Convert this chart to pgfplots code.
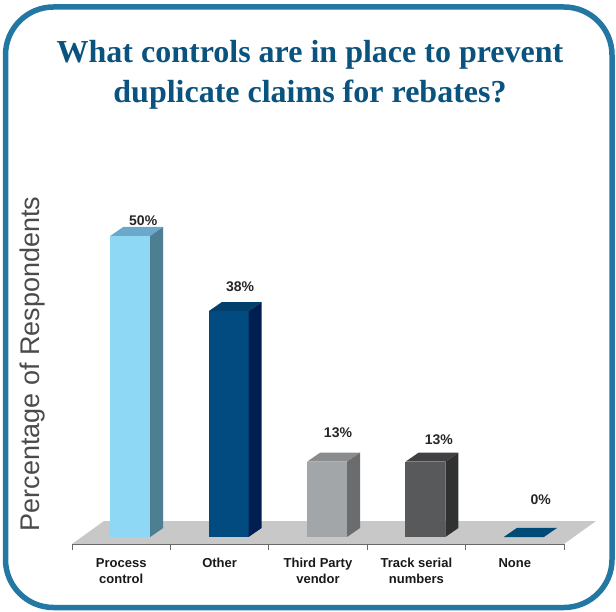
\documentclass[border=0pt]{standalone}
\usepackage{pgfplots}
\pgfplotsset{compat=1.18}
\usepackage{fontspec}
\setmainfont{Liberation Sans}
\newfontfamily\titlefont{Liberation Serif}

\definecolor{frameblue}{RGB}{35,120,163}
\definecolor{titleblue}{RGB}{9,83,126}
\definecolor{floorgray}{RGB}{200,200,201}
\definecolor{axisgray}{RGB}{105,105,105}
\definecolor{ylabgray}{RGB}{75,75,75}
% process control
\definecolor{pcF}{RGB}{143,216,245}
\definecolor{pcT}{RGB}{106,168,204}
\definecolor{pcS}{RGB}{78,126,145}
% other
\definecolor{otF}{RGB}{2,75,128}
\definecolor{otT}{RGB}{2,63,106}
\definecolor{otS}{RGB}{0,30,80}
% third party
\definecolor{tpF}{RGB}{163,166,169}
\definecolor{tpT}{RGB}{137,139,141}
\definecolor{tpS}{RGB}{107,108,110}
% track serial
\definecolor{tsF}{RGB}{88,89,91}
\definecolor{tsT}{RGB}{65,65,67}
\definecolor{tsS}{RGB}{48,49,49}
% none
\definecolor{noF}{RGB}{0,74,120}

\pgfdeclareplotmark{empty}{}

% 3d bar drawn from the data point down to y=0
\pgfplotsset{
  prism/.style n args={3}{
    only marks, scatter, mark=empty,
    visualization depends on={rawy \as \valy},
    scatter/@pre marker code/.code={
      \coordinate (b) at (axis direction cs:0,-\valy);
      \path[fill=#1, draw=none] ([xshift=-11pt]b) rectangle (29pt,0pt);
      \path[fill=#2, draw=none] (-11pt,0pt) -- (29pt,0pt) -- (42pt,9pt) -- (2pt,9pt) -- cycle;
      \path[fill=#3, draw=none] (29pt,0pt) -- (42pt,9pt) -- ([xshift=42pt,yshift=9pt]b) -- ([xshift=29pt]b) -- cycle;
    },
    scatter/@post marker code/.code={},
  },
}

\begin{document}
\begin{tikzpicture}
\draw[line width=5.5pt, draw=frameblue, rounded corners=48pt] (5.5pt,3.5pt) rectangle (612pt,604pt);

\node[font=\titlefont\bfseries\fontsize{32}{40}\selectfont, text=titleblue, align=center]
  at (310pt,536pt) {What controls are in place to prevent\\duplicate claims for rebates?};

\node[rotate=90, font=\fontsize{27}{30}\selectfont, text=ylabgray] at (33pt,247pt) {Percentage of Respondents};

\begin{axis}[
  set layers,
  at={(72pt,67pt)}, anchor=south west,
  x=98.4pt, y=6.02pt,
  xmin=-0.5, xmax=4.5, ymin=-1.163, ymax=50,
  clip=false,
  point meta min=0, point meta max=1,
  axis x line*=bottom, axis y line=none,
  axis line style={draw=axisgray, line width=0.8pt},
  xtick={0,1,2,3,4},
  xticklabels={Process\\control, Other, Third Party\\vendor, Track serial\\numbers, None},
  major tick length=0pt,
  extra x ticks={-0.5,0.5,1.5,2.5,3.5,4.5},
  extra x tick labels={},
  extra x tick style={major tick length=6pt, tick align=outside,
    tick style={draw=axisgray, line width=0.8pt}},
  xticklabel style={align=center, font=\bfseries\fontsize{13}{16}\selectfont,
    text=black!90, inner sep=0pt, yshift=-14pt},
]
\begin{pgfonlayer}{axis background}
  \fill[floorgray] (axis cs:-0.5,-1.163) -- (axis cs:4.5,-1.163) -- ++(32pt,23pt) -- ++(-492pt,0pt) -- cycle;
\end{pgfonlayer}

\addplot[prism={pcF}{pcT}{pcS}] coordinates {(0,50)};
\addplot[prism={otF}{otT}{otS}] coordinates {(1,37.5)};
\addplot[prism={tpF}{tpT}{tpS}] coordinates {(2,12.5)};
\addplot[prism={tsF}{tsT}{tsS}] coordinates {(3,12.5)};
\addplot[prism={noF}{noF}{noF}] coordinates {(4,0)};

\tikzset{vlab/.style={font=\bfseries\fontsize{14}{16}\selectfont, text=black!85}}
\node[vlab, xshift=22pt, yshift=15pt] at (axis cs:0,50) {50\%};
\node[vlab, xshift=20.5pt, yshift=25pt] at (axis cs:1,37.5) {38\%};
\node[vlab, xshift=20pt, yshift=29pt] at (axis cs:2,12.5) {13\%};
\node[vlab, xshift=22.5pt, yshift=22pt] at (axis cs:3,12.5) {13\%};
\node[vlab, xshift=26pt, yshift=37pt] at (axis cs:4,0) {0\%};
\end{axis}

\pgfresetboundingbox
\path (0,0) rectangle (616pt,611pt);
\end{tikzpicture}
\end{document}
